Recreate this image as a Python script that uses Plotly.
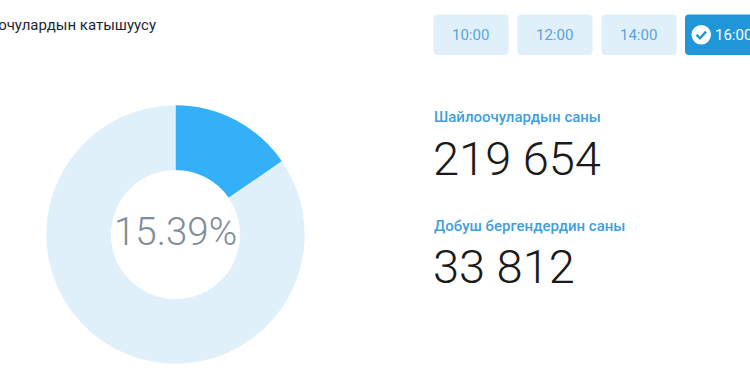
import plotly.graph_objects as go

W, H = 750, 375
title_text = "Шайлоочулардын катышуусу"
time_labels = ["10:00", "12:00", "14:00", "16:00"]
voters_label = "Шайлоочулардын саны"
voted_label = "Добуш бергендердин саны"
voters_total = 219654
voted_total = 33812


def spaced(n):
    return f"{n:,}".replace(",", " ")


share = voted_total / voters_total * 100
slice_values = [voted_total, voters_total - voted_total]

cx, cy, r = 175.5, 234.5, 129.2
fig = go.Figure(
    go.Pie(
        values=slice_values,
        sort=False,
        direction="clockwise",
        rotation=0,
        hole=0.5,
        textinfo="none",
        hoverinfo="skip",
        showlegend=False,
        marker=dict(colors=["#33b0f7", "#e0f0fa"], line=dict(width=0)),
        domain=dict(x=[(cx - r) / W, (cx + r) / W], y=[1 - (cy + r) / H, 1 - (cy - r) / H]),
    )
)


def rrect(x0, y0, x1, y1, rad=4):
    return (
        f"M{x0+rad},{y0} L{x1-rad},{y0} Q{x1},{y0} {x1},{y0+rad} L{x1},{y1-rad} Q{x1},{y1} {x1-rad},{y1} "
        f"L{x0+rad},{y1} Q{x0},{y1} {x0},{y1-rad} L{x0},{y0+rad} Q{x0},{y0} {x0+rad},{y0} Z"
    )


shapes, annos = [], []


def text(x, y, s, size, color, anchor="left", weight=400):
    annos.append(dict(x=x, y=y, xref="x", yref="y", text=s, showarrow=False, xanchor=anchor, yanchor="middle",
                      font=dict(family="Roboto", size=size, color=color, weight=weight)))


btn_x = [433.5, 517.5, 601.5, 685]
for i, label in enumerate(time_labels):
    active = i == 3
    x0 = btn_x[i]
    x1 = x0 + 75 if not active else 760
    shapes.append(dict(type="path", path=rrect(x0, 14.5, x1, 55), fillcolor="#1f96d6" if active else "#e0f0fa",
                       line=dict(width=0), layer="below"))
    if active:
        shapes.append(dict(type="circle", x0=691.5, x1=711, y0=25, y1=44.5, fillcolor="#ffffff", line=dict(width=0)))
        shapes.append(dict(type="path", path="M696.5,34.8 L700,38.2 L706,31.6", line=dict(color="#1f96d6", width=2.4)))
        text(712.5, 34.5, label, 15, "#ffffff")
    else:
        text((x0 + x1) / 2 - 0.5, 34.5, label, 15, "#5ba3dc", "center")

text(158, 25, title_text, 15, "#1c2733", "right")
text(431.5, 117, voters_label, 15, "#3f9fdc", weight=500)
text(431, 158, spaced(voters_total), 47, "#1a1a1a", weight=300)
text(431.5, 225.5, voted_label, 15, "#3f9fdc", weight=500)
text(431, 266, spaced(voted_total), 47, "#1a1a1a", weight=300)
text(cx, cy - 3, f"{share:.2f}%", 38.5, "#7f8c99", "center", weight=300)

fig.update_layout(
    width=W,
    height=H,
    margin=dict(l=0, r=0, t=0, b=0),
    paper_bgcolor="#ffffff",
    plot_bgcolor="rgba(0,0,0,0)",
    xaxis=dict(range=[0, W], visible=False, fixedrange=True),
    yaxis=dict(range=[H, 0], visible=False, fixedrange=True),
    shapes=shapes,
    annotations=annos,
)
fig.write_html(
    "out.html",
    config=dict(displayModeBar=False),
    post_script="document.body.style.margin='0';document.documentElement.style.overflow='hidden';",
)
